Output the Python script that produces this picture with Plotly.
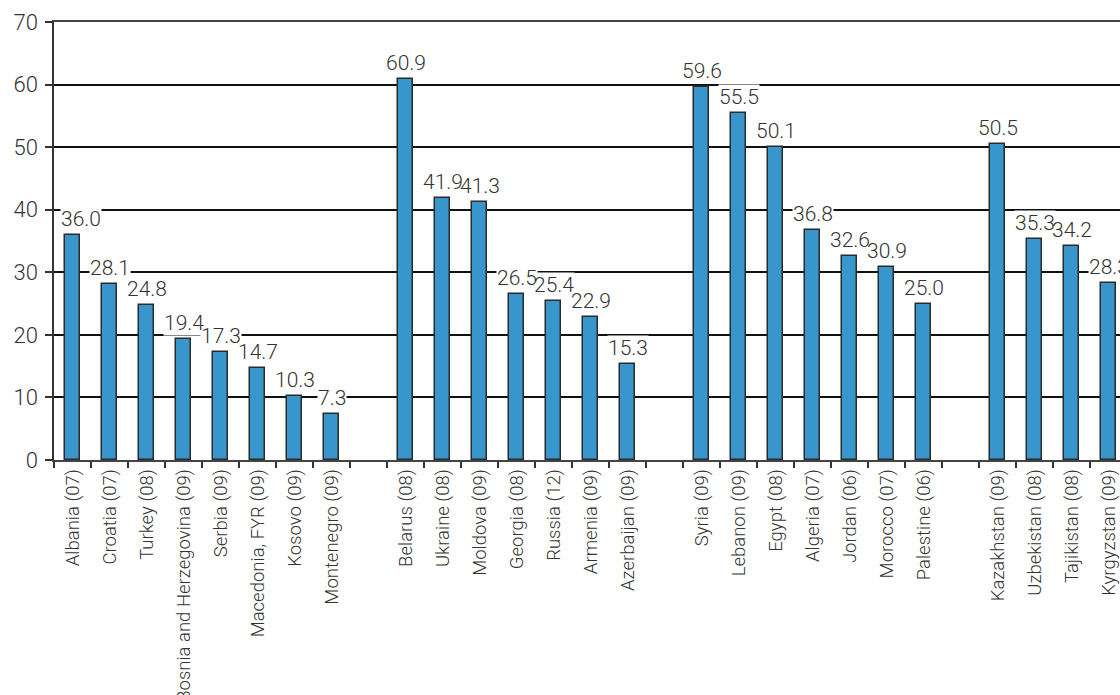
import plotly.graph_objects as go

# ---- data ----
g1_names = ["Albania (07)", "Croatia (07)", "Turkey (08)", "Bosnia and Herzegovina (09)",
            "Serbia (09)", "Macedonia, FYR (09)", "Kosovo (09)", "Montenegro (09)"]
g1_vals = [36.0, 28.1, 24.8, 19.4, 17.3, 14.7, 10.3, 7.3]
g2_names = ["Belarus (08)", "Ukraine (08)", "Moldova (09)", "Georgia (08)", "Russia (12)",
            "Armenia (09)", "Azerbaijan (09)"]
g2_vals = [60.9, 41.9, 41.3, 26.5, 25.4, 22.9, 15.3]
g3_names = ["Syria (09)", "Lebanon (09)", "Egypt (08)", "Algeria (07)", "Jordan (06)",
            "Morocco (07)", "Palestine (06)"]
g3_vals = [59.6, 55.5, 50.1, 36.8, 32.6, 30.9, 25.0]
g4_names = ["Kazakhstan (09)", "Uzbekistan (08)", "Tajikistan (08)", "Kyrgyzstan (09)"]
g4_vals = [50.5, 35.3, 34.2, 28.3]

y_ticks = [0, 10, 20, 30, 40, 50, 60, 70]

groups = [(g1_names, g1_vals), (g2_names, g2_vals), (g3_names, g3_vals), (g4_names, g4_vals)]

cats, vals = [], []
for i, (n, v) in enumerate(groups):
    if i > 0:
        cats.append(" " * i)
        vals.append(None)
    cats += n
    vals += v

BAR = "#3896cd"
TXT = "#333333"
FONT = "Roboto"
W = 300

fig = go.Figure()
fig.add_trace(go.Bar(
    x=cats, y=vals, width=0.42,
    marker=dict(color=BAR, line=dict(color="#2b2b2b", width=1.5)),
    yaxis="y", hoverinfo="skip",
))
# invisible trace for the grid axis
fig.add_trace(go.Scatter(x=[cats[0]], y=[None], yaxis="y2", showlegend=False, hoverinfo="skip"))

# two passes: white boxes first, then text on top so no box hides a neighbour's text
for layer in ("box", "text"):
    for i, (c, v) in enumerate(zip(cats, vals)):
        if v is None:
            continue
        fig.add_annotation(
            x=c, y=v, xref="x", yref="y", text=f"{v:.1f}", showarrow=False,
            yanchor="bottom", yshift=3, xshift=8 if i == 0 else 0,
            bgcolor="white" if layer == "box" else "rgba(0,0,0,0)", borderpad=0,
            font=dict(family=FONT, size=21,
                      color="rgba(0,0,0,0)" if layer == "box" else TXT, weight=W),
        )

fig.update_layout(
    width=1120, height=695,
    margin=dict(l=54, r=0, t=22, b=235),
    paper_bgcolor="white", plot_bgcolor="white",
    showlegend=False, bargap=0,
    font=dict(family=FONT, color=TXT, weight=W),
    xaxis=dict(
        type="category", categoryorder="array", categoryarray=cats,
        range=[-0.5, 28.31], tickson="boundaries", automargin=False,
        ticks="outside", ticklen=6, tickwidth=1.5, tickcolor="#333",
        tickangle=-90, tickfont=dict(family=FONT, size=18.5, color=TXT, weight=W),
        showline=True, linecolor="#444", linewidth=1.5, mirror=True,
        showgrid=False, zeroline=False,
    ),
    yaxis=dict(
        range=[0, 70], tickvals=y_ticks, ticks="outside", ticklen=7, tickwidth=1.5,
        tickcolor="#333", tickfont=dict(family=FONT, size=22, color=TXT, weight=W),
        ticklabelstandoff=3, automargin=False,
        showline=True, linecolor="#333", linewidth=1.5, showgrid=False, zeroline=False,
    ),
    yaxis2=dict(
        range=[0, 70], overlaying="y", tickvals=y_ticks[1:-1], showgrid=True,
        gridcolor="#111", gridwidth=2, showticklabels=False, ticks="",
        showline=False, zeroline=False, automargin=False,
    ),
)

fig.write_html("out.html")
